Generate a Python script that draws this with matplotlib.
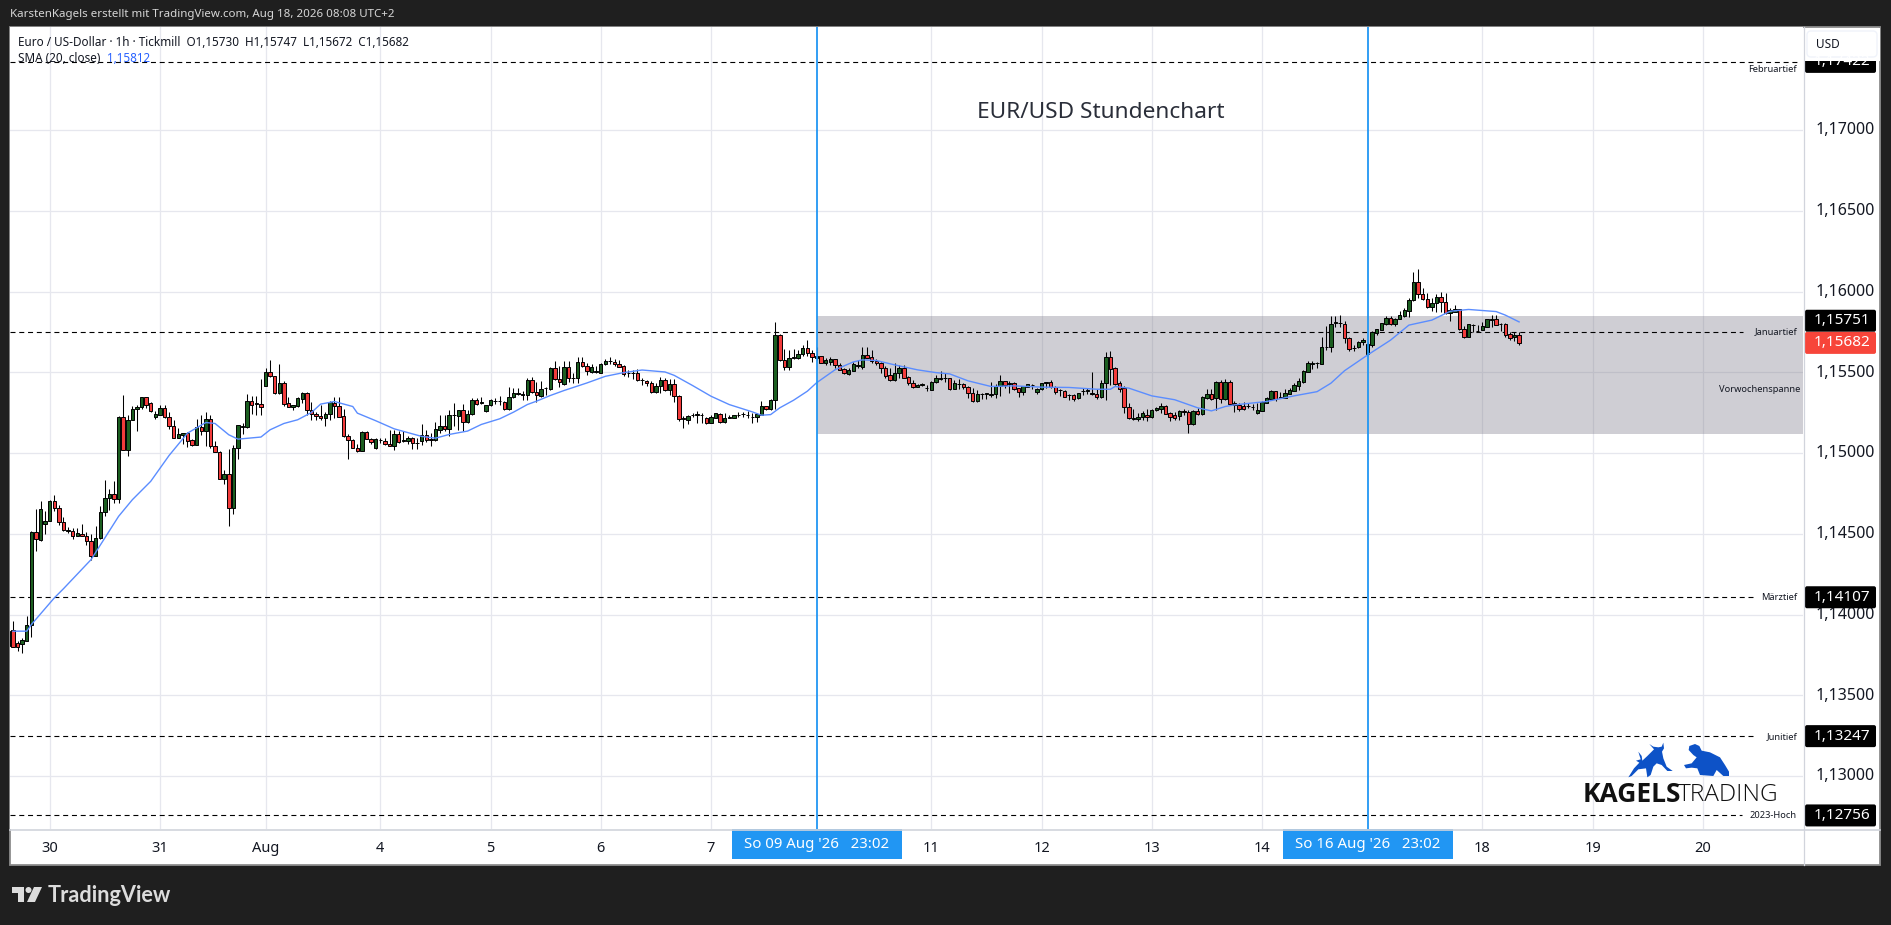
import numpy as np
import matplotlib
matplotlib.use("Agg")
import matplotlib.pyplot as plt
from matplotlib.patches import Rectangle, FancyBboxPatch, Polygon, Circle
from matplotlib.ticker import FuncFormatter
from matplotlib.transforms import ScaledTranslation

plt.rcParams['font.family'] = ['Noto Sans', 'DejaVu Sans']

W, H = 1891, 925

# hourly candles, in 1e-5 price units
opens = [
    113804, 113907, 113821, 113819, 113839, 113938, 114509, 114463, 114560, 114581,
    114705, 114661, 114575, 114515, 114519, 114488, 114501, 114488, 114457, 114365,
    114474, 114635, 114722, 114748, 114715, 115226, 115018, 115204, 115272, 115282,
    115348, 115307, 115222, 115235, 115276, 115226, 115169, 115092, 115111, 115125,
    115078, 115049, 115162, 115136, 115212, 115045, 115008, 114839, 114872, 114662,
    115031, 115160, 115160, 115323, 115303, 115305, 115418, 115502, 115478, 115370,
    115434, 115311, 115284, 115294, 115333, 115373, 115265, 115243, 115232, 115216,
    115241, 115309, 115292, 115230, 115107, 115082, 115033, 115012, 115131, 115088,
    115029, 115078, 115076, 115057, 115043, 115115, 115074, 115074, 115094, 115060,
    115072, 115113, 115084, 115080, 115142, 115169, 115148, 115236, 115228, 115267,
    115191, 115241, 115331, 115311, 115259, 115298, 115321, 115320, 115317, 115271,
    115346, 115364, 115362, 115360, 115455, 115378, 115356, 115400, 115395, 115527,
    115459, 115430, 115533, 115465, 115463, 115564, 115539, 115504, 115500, 115498,
    115549, 115570, 115564, 115551, 115541, 115494, 115494, 115496, 115452, 115446,
    115434, 115380, 115415, 115455, 115389, 115430, 115356, 115212, 115204, 115234,
    115238, 115236, 115220, 115185, 115218, 115243, 115191, 115220, 115216, 115234,
    115240, 115234, 115222, 115224, 115236, 115292, 115271, 115327, 115732, 115576,
    115531, 115590, 115590, 115611, 115650, 115619, 115586,
    115599, 115560, 115566, 115581, 115546, 115521, 115490, 115511, 115538, 115535,
    115605, 115593, 115572, 115558, 115527, 115482, 115453, 115494, 115527, 115470,
    115433, 115408, 115424, 115400, 115393, 115439, 115460, 115464, 115463, 115398,
    115428, 115428, 115408, 115371, 115321, 115365, 115367, 115362, 115363, 115412,
    115445, 115430, 115435, 115400, 115381, 115408, 115420, 115381, 115396, 115435,
    115439, 115408, 115390, 115387, 115360, 115360, 115338, 115385, 115387, 115368,
    115365, 115344, 115433, 115593, 115525, 115433, 115402, 115284, 115213, 115208,
    115221, 115235, 115221, 115266, 115274, 115291, 115247, 115233, 115227, 115262,
    115253, 115181, 115262, 115239, 115340, 115365, 115338,
    115438, 115337, 115438, 115308, 115296, 115292, 115292, 115286, 115245, 115263,
    115310, 115337, 115382, 115343, 115343, 115368, 115387, 115417, 115440, 115504,
    115553, 115555, 115553, 115656, 115658, 115807, 115805, 115802, 115710, 115650,
    115654, 115685, 115615, 115668, 115745, 115763, 115798, 115839, 115798, 115833,
    115850, 115880, 115946, 116062, 115987, 115954, 115903, 115926, 115969, 115936,
    115870, 115876, 115889, 115765, 115720, 115790, 115755, 115761, 115782, 115826,
    115827, 115800, 115802, 115734, 115716, 115730,
]
highs = [
    113918, 113963, 113835, 113852, 113988, 114515, 114655, 114700, 114639, 114707,
    114742, 114676, 114602, 114544, 114534, 114536, 114560, 114509, 114501, 114546,
    114670, 114831, 114775, 114825, 115232, 115360, 115237, 115294, 115298, 115350,
    115350, 115319, 115263, 115298, 115298, 115257, 115206, 115158, 115127, 115132,
    115088, 115212, 115237, 115257, 115237, 115072, 115014, 114897, 115026, 115051,
    115175, 115185, 115366, 115354, 115354, 115461, 115527, 115576, 115480, 115554,
    115447, 115350, 115300, 115350, 115377, 115379, 115313, 115251, 115298, 115253,
    115325, 115344, 115344, 115272, 115119, 115088, 115053, 115136, 115138, 115096,
    115090, 115096, 115094, 115140, 115140, 115134, 115134, 115103, 115100, 115096,
    115177, 115142, 115121, 115193, 115238, 115238, 115269, 115311, 115269, 115306,
    115265, 115341, 115341, 115348, 115300, 115335, 115338, 115356, 115321, 115409,
    115403, 115403, 115383, 115465, 115471, 115440, 115444, 115409, 115533, 115572,
    115541, 115572, 115568, 115496, 115594, 115594, 115557, 115551, 115540, 115557,
    115582, 115594, 115582, 115578, 115547, 115512, 115516, 115520, 115465, 115455,
    115444, 115434, 115471, 115465, 115461, 115459, 115362, 115232, 115234, 115249,
    115263, 115245, 115224, 115238, 115249, 115245, 115245, 115238, 115238, 115253,
    115255, 115259, 115249, 115249, 115321, 115294, 115335, 115811, 115737, 115644,
    115640, 115644, 115640, 115669, 115697, 115640, 115656,
    115601, 115587, 115593, 115583, 115556, 115525, 115525, 115564, 115577, 115659,
    115659, 115638, 115581, 115566, 115540, 115527, 115556, 115546, 115546, 115474,
    115453, 115426, 115433, 115422, 115443, 115484, 115505, 115498, 115465, 115453,
    115457, 115433, 115418, 115402, 115391, 115371, 115373, 115437, 115426, 115482,
    115449, 115443, 115439, 115404, 115418, 115430, 115428, 115404, 115435, 115439,
    115453, 115412, 115398, 115391, 115367, 115367, 115373, 115402, 115402, 115502,
    115398, 115453, 115628, 115632, 115535, 115443, 115412, 115309, 115272, 115247,
    115258, 115272, 115272, 115284, 115309, 115299, 115251, 115251, 115268, 115272,
    115264, 115268, 115276, 115351, 115395, 115395, 115446,
    115452, 115456, 115452, 115325, 115312, 115319, 115312, 115304, 115308, 115325,
    115345, 115391, 115387, 115380, 115395, 115401, 115432, 115463, 115514, 115572,
    115570, 115566, 115716, 115786, 115850, 115850, 115854, 115815, 115716, 115666,
    115693, 115710, 115690, 115755, 115771, 115808, 115848, 115848, 115839, 115878,
    115901, 115961, 116121, 116142, 116024, 115992, 115957, 115987, 115998, 115994,
    115895, 115915, 115893, 115786, 115802, 115798, 115790, 115812, 115833, 115854,
    115854, 115804, 115804, 115751, 115751, 115747,
]
lows = [
    113773, 113800, 113773, 113763, 113835, 113862, 114391, 114457, 114498, 114577,
    114639, 114552, 114515, 114505, 114470, 114486, 114484, 114433, 114336, 114360,
    114470, 114608, 114647, 114691, 114691, 115016, 114981, 115202, 115134, 115272,
    115278, 115257, 115210, 115233, 115220, 115148, 115090, 115090, 115055, 115037,
    115043, 115047, 115109, 115043, 115031, 115004, 114837, 114810, 114548, 114623,
    114965, 115117, 115158, 115241, 115237, 115235, 115414, 115471, 115368, 115368,
    115294, 115282, 115265, 115286, 115307, 115237, 115204, 115204, 115202, 115167,
    115204, 115220, 115222, 115099, 114960, 115029, 115008, 115010, 115084, 115055,
    115022, 115061, 115051, 115041, 115016, 115064, 115068, 115057, 115028, 115028,
    115047, 115070, 115043, 115076, 115125, 115136, 115105, 115166, 115142, 115134,
    115187, 115238, 115300, 115306, 115257, 115294, 115304, 115300, 115269, 115269,
    115341, 115358, 115327, 115331, 115372, 115319, 115348, 115362, 115393, 115455,
    115407, 115424, 115438, 115434, 115434, 115533, 115481, 115496, 115498, 115496,
    115547, 115551, 115537, 115531, 115475, 115471, 115461, 115444, 115424, 115418,
    115372, 115372, 115372, 115383, 115362, 115315, 115197, 115156, 115177, 115224,
    115187, 115187, 115181, 115183, 115214, 115189, 115189, 115216, 115214, 115222,
    115222, 115214, 115187, 115191, 115234, 115265, 115269, 115274, 115572, 115512,
    115512, 115582, 115582, 115599, 115603, 115562, 115578,
    115556, 115548, 115546, 115525, 115513, 115492, 115484, 115509, 115529, 115523,
    115587, 115560, 115546, 115498, 115463, 115443, 115449, 115463, 115463, 115420,
    115404, 115406, 115416, 115387, 115391, 115433, 115453, 115437, 115391, 115396,
    115396, 115396, 115340, 115319, 115319, 115334, 115336, 115350, 115340, 115356,
    115402, 115371, 115391, 115350, 115360, 115406, 115396, 115367, 115391, 115400,
    115402, 115367, 115354, 115348, 115330, 115325, 115334, 115360, 115365, 115358,
    115334, 115340, 115330, 115422, 115422, 115381, 115247, 115212, 115202, 115200,
    115202, 115198, 115217, 115262, 115247, 115239, 115196, 115206, 115206, 115237,
    115122, 115175, 115235, 115237, 115334, 115330, 115264,
    115312, 115329, 115302, 115251, 115261, 115267, 115277, 115267, 115243, 115259,
    115308, 115335, 115323, 115339, 115339, 115366, 115385, 115391, 115436, 115500,
    115518, 115524, 115551, 115638, 115627, 115778, 115778, 115683, 115633, 115633,
    115650, 115668, 115611, 115658, 115730, 115761, 115792, 115794, 115786, 115829,
    115843, 115843, 115944, 115957, 115950, 115901, 115880, 115874, 115874, 115860,
    115819, 115872, 115760, 115712, 115716, 115751, 115749, 115759, 115778, 115782,
    115790, 115755, 115720, 115699, 115695, 115672,
]
closes = [
    113897, 113800, 113800, 113841, 113938, 114509, 114468, 114655, 114581, 114705,
    114659, 114573, 114523, 114525, 114488, 114503, 114488, 114455, 114365, 114476,
    114637, 114724, 114748, 114715, 115226, 115018, 115206, 115274, 115288, 115348,
    115298, 115263, 115239, 115276, 115222, 115167, 115092, 115115, 115125, 115074,
    115049, 115162, 115136, 115212, 115043, 115008, 114839, 114872, 114662, 115033,
    115171, 115169, 115323, 115296, 115307, 115284, 115502, 115476, 115370, 115434,
    115305, 115284, 115298, 115338, 115373, 115265, 115243, 115228, 115218, 115243,
    115315, 115290, 115226, 115103, 115080, 115031, 115012, 115131, 115088, 115068,
    115084, 115082, 115055, 115045, 115115, 115068, 115078, 115096, 115061, 115062,
    115111, 115078, 115080, 115146, 115169, 115146, 115236, 115238, 115267, 115191,
    115243, 115329, 115306, 115317, 115298, 115329, 115323, 115322, 115273, 115348,
    115372, 115372, 115366, 115455, 115376, 115358, 115399, 115404, 115527, 115457,
    115438, 115533, 115463, 115467, 115566, 115539, 115506, 115533, 115506, 115551,
    115572, 115572, 115549, 115535, 115488, 115496, 115496, 115450, 115455, 115434,
    115378, 115417, 115453, 115389, 115430, 115354, 115212, 115214, 115232, 115236,
    115240, 115238, 115185, 115222, 115245, 115191, 115218, 115222, 115236, 115236,
    115242, 115236, 115224, 115243, 115292, 115271, 115331, 115732, 115576, 115531,
    115588, 115592, 115613, 115650, 115617, 115595, 115601,
    115560, 115577, 115581, 115544, 115517, 115494, 115517, 115552, 115546, 115605,
    115591, 115568, 115556, 115525, 115474, 115453, 115496, 115527, 115467, 115431,
    115408, 115422, 115425, 115404, 115439, 115467, 115462, 115466, 115398, 115433,
    115430, 115406, 115371, 115321, 115367, 115367, 115369, 115364, 115416, 115445,
    115424, 115432, 115396, 115381, 115412, 115426, 115424, 115398, 115433, 115437,
    115408, 115381, 115392, 115350, 115362, 115336, 115371, 115387, 115389, 115370,
    115344, 115433, 115593, 115519, 115428, 115396, 115282, 115214, 115215, 115225,
    115247, 115221, 115266, 115280, 115293, 115243, 115221, 115219, 115260, 115252,
    115181, 115262, 115239, 115346, 115367, 115336, 115440,
    115337, 115438, 115306, 115296, 115275, 115275, 115294, 115288, 115265, 115314,
    115341, 115384, 115337, 115345, 115370, 115389, 115421, 115444, 115508, 115555,
    115555, 115557, 115654, 115658, 115802, 115809, 115807, 115710, 115644, 115652,
    115687, 115699, 115675, 115747, 115765, 115804, 115839, 115800, 115833, 115852,
    115883, 115950, 116062, 115987, 115954, 115905, 115926, 115969, 115936, 115866,
    115885, 115889, 115765, 115718, 115798, 115792, 115757, 115784, 115829, 115828,
    115794, 115802, 115728, 115714, 115728, 115682,
]

# SMA (20, close)
sma_bars = [1, 4, 5, 10, 12, 18, 24, 27, 31, 35, 39, 43, 45, 48, 50, 55, 57, 60, 63, 66, 68, 71, 75, 76, 80, 84,
            90, 93, 96, 100, 103, 107, 110, 113, 115, 118, 121, 126, 130, 134, 138, 143, 145, 149, 153, 157,
            162, 164, 166, 168, 171, 174, 176, 180, 184, 186, 189, 193, 198, 202, 205, 209, 214, 219, 225,
            231, 237, 240, 241, 244, 249, 254, 259, 262, 265, 267, 274, 280, 285, 288, 291, 296, 301, 305,
            310, 314, 318, 324, 326, 329]
sma_values = [113897, 113897, 113938, 114103, 114160, 114340, 114608, 114711, 114825, 114985, 115123, 115189,
              115183, 115113, 115086, 115099, 115144, 115183, 115206, 115251, 115303, 115319, 115288, 115247,
              115200, 115150, 115103, 115092, 115115, 115136, 115177, 115212, 115253, 115300, 115321, 115356,
              115387, 115434, 115475, 115498, 115514, 115502, 115481, 115418, 115352, 115300, 115255, 115234,
              115238, 115280, 115327, 115383, 115435, 115515, 115564, 115577, 115573, 115546, 115515, 115498,
              115490, 115447, 115412, 115416, 115408, 115406, 115395, 115395, 115412, 115402, 115354, 115330,
              115280, 115261, 115288, 115298, 115319, 115354, 115380, 115432, 115510, 115607, 115699, 115792,
              115823, 115878, 115889, 115876, 115854, 115812]

tick_bars = [9, 33, 56, 81, 105, 129, 153, 201, 225, 249, 273, 321, 345, 369]
tick_labels = ['30', '31', 'Aug', '4', '5', '6', '7', '11', '12', '13', '14', '18', '19', '20']
price_ticks = [1.130, 1.135, 1.140, 1.145, 1.150, 1.155, 1.160, 1.165, 1.170]

level_prices = [1.17422, 1.15751, 1.14107, 1.13247, 1.12756]
level_names = ['Februartief', 'Januartief', 'Märztief', 'Junitief', '2023-Hoch']
level_line_ends = [1797, 1743, 1753, 1753, 1742]
level_name_dy = [8, 0, 0, 0, 0]
level_box_dy = [0, -11, 0, 0, 0]
last_price = 1.15682

range_top, range_bottom = 1.15849, 1.15118
session_bars = [176, 296]
session_labels = ["So 09 Aug '26   23:02", "So 16 Aug '26   23:02"]

DARK = '#1f1f1f'
TEXT = '#131722'
BLUE = '#2196f3'
LOGO = '#0d52c7'

fig = plt.figure(figsize=(W / 100, H / 100), dpi=100, facecolor=DARK)

# page layer in pixel coordinates
page = fig.add_axes([0, 0, 1, 1], zorder=0)
page.set_xlim(0, W)
page.set_ylim(H, 0)
page.axis('off')
page.add_patch(Rectangle((10, 27), 1870, 838, facecolor='white', edgecolor='#8c8c8c', lw=1.3))

left, right, top, bottom = 10, 1803, 27, 829
ax = fig.add_axes([left / W, 1 - bottom / H, (right - left) / W, (bottom - top) / H], zorder=1)
ax.set_facecolor('white')
for s in ax.spines.values():
    s.set_visible(False)

idx = np.arange(len(opens))
o = np.array(opens) / 1e5
h = np.array(highs) / 1e5
l = np.array(lows) / 1e5
c = np.array(closes) / 1e5
up = c >= o

x0, x1 = 0.35, 390.83
ax.set_xlim(x0, x1)
ax.set_ylim(1.12672, 1.17638)

ax.set_xticks(tick_bars)
ax.set_xticklabels(tick_labels, fontsize=10.5, color=TEXT)
ax.get_xticklabels()[2].set_fontweight('bold')
ax.set_yticks(price_ticks)
ax.yaxis.tick_right()
ax.yaxis.set_major_formatter(FuncFormatter(lambda v, p: f"{v:.5f}".replace('.', ',')))
ax.tick_params(axis='y', length=0, pad=9, labelsize=11.5, labelcolor=TEXT)
ax.tick_params(axis='x', length=0, pad=9)
ax.grid(True, color='#e6e7ee', lw=0.9)
ax.set_axisbelow(True)
for lbl in ax.get_yticklabels():
    lbl.set_fontweight('medium')
    lbl.set_transform(lbl.get_transform() + ScaledTranslation(0, 1.2 / 72, fig.dpi_scale_trans))

ax.axhspan(range_bottom, range_top, xmin=(session_bars[0] - x0) / (x1 - x0), xmax=1,
           facecolor=(117 / 255, 114 / 255, 129 / 255, 0.34), edgecolor='none', zorder=1.5)

for price, end in zip(level_prices, level_line_ends):
    ax.plot([0, (end - left) / (right - left)], [price, price], transform=ax.get_yaxis_transform(),
            color='black', lw=0.8, linestyle=(0, (4.5, 3.4)), zorder=3)

ax.vlines(idx, l, h, color='black', lw=0.75, zorder=3.5)
ax.bar(idx[up], (c - o)[up], bottom=o[up], width=0.75, color='#1b5e20', edgecolor='black', lw=0.7, zorder=4)
ax.bar(idx[~up], (o - c)[~up], bottom=c[~up], width=0.75, color='#f23b3b', edgecolor='black', lw=0.7, zorder=4)

ax.plot(sma_bars, np.array(sma_values) / 1e5, color='#5b8dff', lw=1.0, zorder=5)
for b in session_bars:
    ax.axvline(b, color=BLUE, lw=1.3, zorder=6)

# overlay layer, labels and boxes in pixel coordinates
top_layer = fig.add_axes([0, 0, 1, 1], zorder=2)
top_layer.set_xlim(0, W)
top_layer.set_ylim(H, 0)
top_layer.axis('off')
top_layer.patch.set_alpha(0)


def price_y(price):
    return bottom - (price - 1.12672) / (1.17638 - 1.12672) * (bottom - top)


top_layer.plot([1803.5, 1803.5], [27, 865], color='#d1d4dc', lw=0.9)
top_layer.plot([10, 1880], [829.5, 829.5], color='#d1d4dc', lw=1.2)

for b, label in zip(session_bars, session_labels):
    cx = left + (b - x0) / (x1 - x0) * (right - left)
    top_layer.add_patch(Rectangle((cx - 85, 829), 170, 30, facecolor=BLUE, edgecolor='none'))
    top_layer.text(cx, 844, label, color='white', fontsize=10.8, ha='center', va='center')

for price, name, ndy, bdy in zip(level_prices, level_names, level_name_dy, level_box_dy):
    y = price_y(price)
    top_layer.text(1797, y + ndy, name, fontsize=6.7, color=TEXT, ha='right', va='center')
    top_layer.add_patch(FancyBboxPatch((1805, y + bdy - 11), 71, 22, boxstyle='round,pad=0,rounding_size=2',
                                       facecolor='black', edgecolor='none'))
    top_layer.text(1842, y + bdy, f"{price:.5f}".replace('.', ','), color='white', fontsize=11,
                   ha='center', va='center', fontweight='bold')

y = price_y(last_price)
top_layer.add_patch(FancyBboxPatch((1805, y - 11), 71, 22, boxstyle='round,pad=0,rounding_size=2',
                                   facecolor='#f7453a', edgecolor='none'))
top_layer.text(1842, y, f"{last_price:.5f}".replace('.', ','), color='white', fontsize=11,
               ha='center', va='center', fontweight='bold')
top_layer.text(1800, 389, 'Vorwochenspanne', fontsize=6.7, color=TEXT, ha='right', va='center')

# USD button sits over the clipped Februartief label
top_layer.add_patch(Rectangle((1804.5, 28), 75, 32.5, facecolor='white', edgecolor='none'))
top_layer.add_patch(FancyBboxPatch((1807, 31), 70, 26, boxstyle='round,pad=0,rounding_size=4',
                                   facecolor='white', edgecolor='#f0f3fa', lw=1))
top_layer.text(1816, 44.5, 'USD', fontsize=8.5, color=TEXT, va='center')

top_layer.text(1100.5, 112.5, 'EUR/USD Stundenchart', fontsize=16.3, color='#2a2e39', ha='center', va='center')

top_layer.text(10, 14.5, 'KarstenKagels erstellt mit TradingView.com, Aug 18, 2026 08:08 UTC+2',
               fontsize=8.3, color='#d6d6d6', va='center')
top_layer.text(18, 42, 'Euro / US-Dollar · 1h · Tickmill  O1,15730  H1,15747  L1,15672  C1,15682',
               fontsize=8.45, color=TEXT, va='center')
top_layer.text(18, 59, 'SMA (20, close)', fontsize=8.45, color=TEXT, va='center')
top_layer.text(107, 59, '1,15812', fontsize=8.45, color='#2962ff', va='center')

# Kagels Trading logo
bull = [(205, 172), (222, 145), (238, 128), (228, 122), (242, 118), (235, 95), (245, 108), (247, 122), (262, 108),
        (282, 88), (268, 72), (280, 80), (295, 82), (305, 80), (310, 68), (312, 85), (306, 95), (310, 115),
        (320, 140), (338, 153), (322, 153), (305, 135), (290, 130), (280, 140), (272, 165), (262, 172),
        (258, 145), (235, 148), (215, 168)]
bear = [(372, 135), (395, 130), (410, 112), (400, 105), (386, 90), (388, 78), (405, 72), (418, 78), (425, 92),
        (450, 97), (480, 112), (495, 135), (507, 155), (507, 168), (490, 168), (470, 150), (460, 168), (420, 165),
        (412, 145), (395, 143), (378, 145)]
for shape in (bull, bear):
    pts = [(1560 + a / 3, 720 + b / 3) for a, b in shape]
    top_layer.add_patch(Polygon(pts, closed=True, facecolor=LOGO, edgecolor='none'))
top_layer.text(1583, 795, 'KAGELS', family='Open Sans', fontweight='bold', fontsize=19, color='#111111', va='center')
top_layer.text(1678, 795, 'TRADING', family='Open Sans', fontweight='light', fontsize=17.6, color='#111111', va='center')

# TradingView footer
page_grey = '#dcdcdc'
top_layer.add_patch(Polygon([(12, 887), (24, 887), (24, 902), (18, 902), (18, 893), (12, 893)], facecolor=page_grey))
top_layer.add_patch(Circle((28.5, 890), 3, facecolor=page_grey))
top_layer.add_patch(Polygon([(34, 887), (42, 887), (35, 902), (27, 902)], facecolor=page_grey))
top_layer.text(48, 895.5, 'TradingView', family='Lato', fontweight='bold', fontsize=15.7, color=page_grey, va='center')

fig.savefig('out.png', dpi=100, facecolor=DARK)
